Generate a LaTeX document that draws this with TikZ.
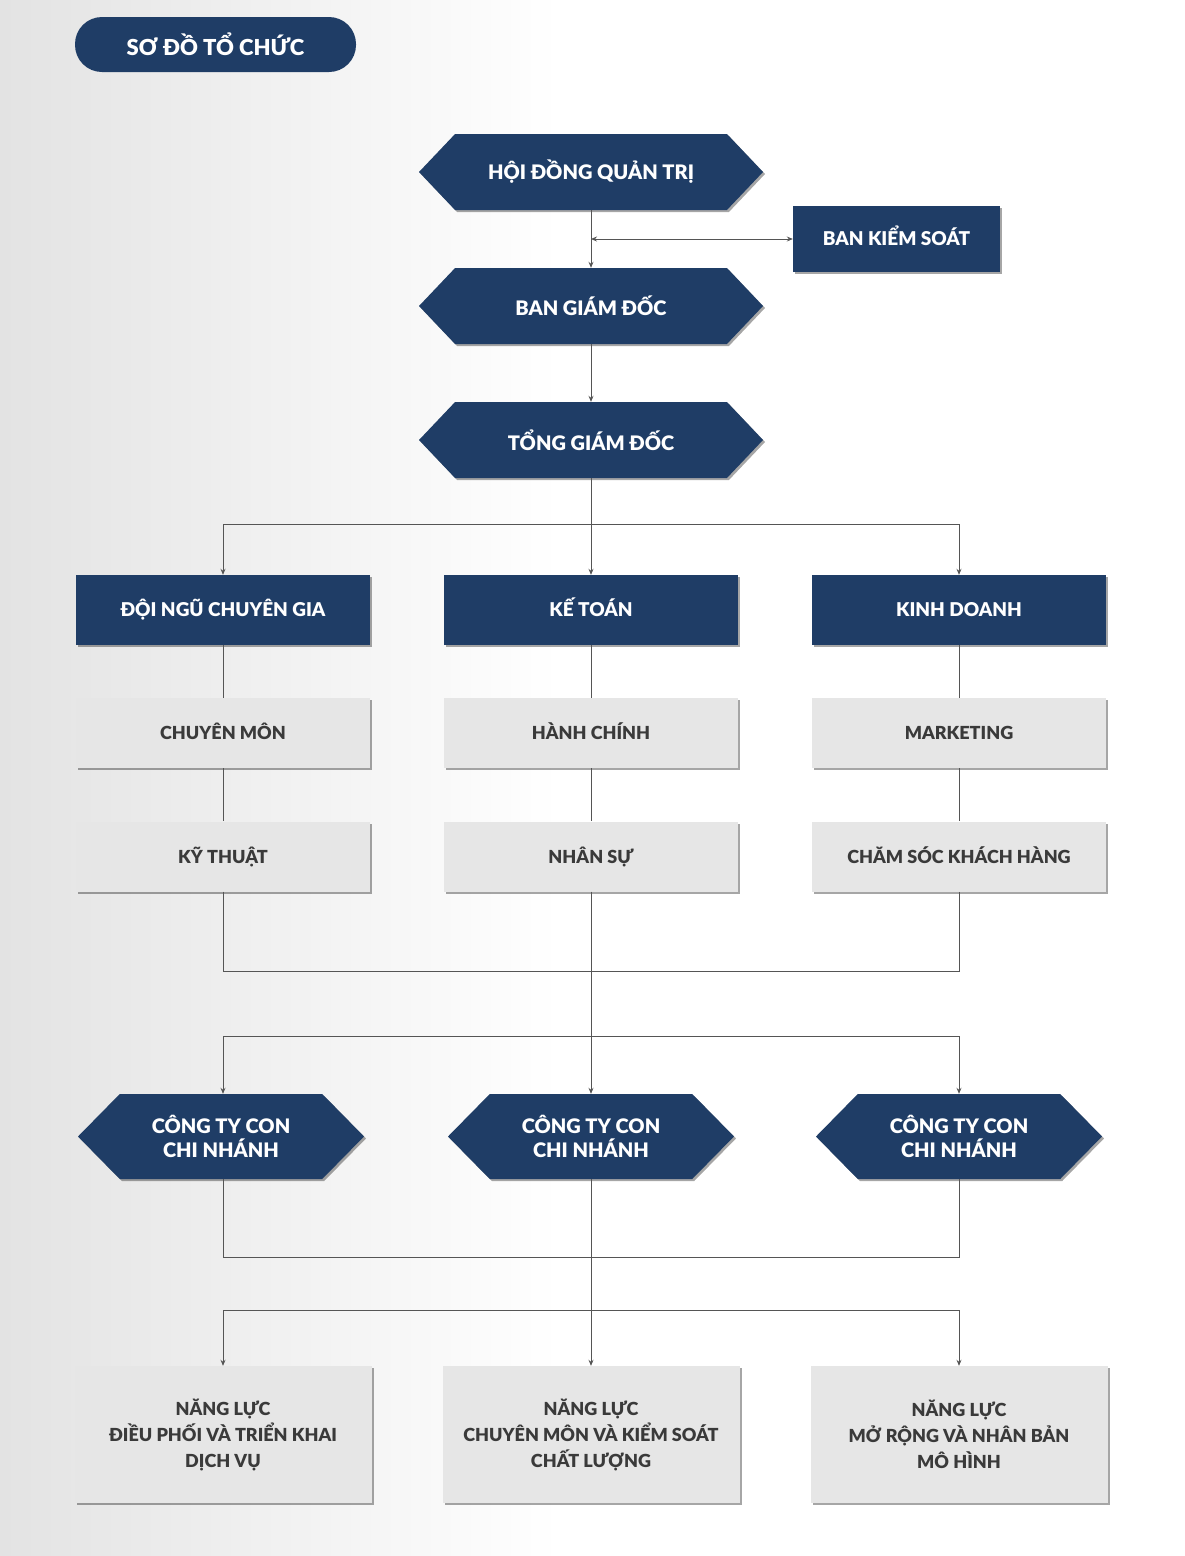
\documentclass[tikz,border=0pt]{standalone}
\usepackage{fontspec}
\setmainfont{Lato}[BoldFont={Lato Black}]
\usetikzlibrary{positioning,shapes.symbols,shadows,arrows.meta}
\definecolor{navy}{RGB}{31,61,102}
\definecolor{boxgray}{RGB}{230,230,230}
\definecolor{textgray}{RGB}{58,58,58}
\definecolor{linegray}{RGB}{85,85,85}

\begin{document}
\begin{tikzpicture}[x=1pt,y=-1pt,
	boxshadow/.style={drop shadow={shadow xshift=2pt,shadow yshift=-2pt,opacity=0.35,fill=black}},
	titlebox/.style={rectangle, rounded corners=27pt, fill=navy, text=white, minimum width=281pt, minimum height=55pt, font=\fontsize{22}{26}\selectfont\bfseries},
	darkhex/.style={shape=signal, signal to=west and east, signal pointer angle=93, fill=navy, text=white, inner sep=0pt, minimum width=344pt, minimum height=76pt, boxshadow, font=\fontsize{20}{24}\selectfont\bfseries},
	subhex/.style={darkhex, minimum width=286pt, minimum height=85pt, signal pointer angle=91, align=center},
	darkbox/.style={rectangle, fill=navy, text=white, minimum width=294pt, minimum height=70pt, text height=13.5pt, text depth=0pt, boxshadow, font=\fontsize{19}{23}\selectfont\bfseries},
	lightbox/.style={rectangle, fill=boxgray, text=textgray, minimum width=294pt, minimum height=70pt, text height=13pt, text depth=0pt, boxshadow, font=\fontsize{18}{22}\selectfont\bfseries},
	capbox/.style={lightbox, minimum width=297pt, minimum height=137pt, text height=, text depth=, align=center, font=\fontsize{18}{26}\selectfont\bfseries},
	line/.style={draw=linegray, line width=0.9pt},
	arrowline/.style={line, -{Stealth[length=6pt,width=5pt]}},
	]
	\useasboundingbox (0,0) rectangle (1184,1556);
	\shade[left color=black!11, right color=white] (0,0) rectangle (560,1556);

	\node[titlebox] (title) at (215.5,44.5) {SƠ ĐỒ TỔ CHỨC};

	% top of the chart
	\node[darkhex] (hdqt) at (591,172) {HỘI ĐỒNG QUẢN TRỊ};
	\node[darkbox, minimum width=207pt, minimum height=66pt] (bks) at (896.5,239) {BAN KIỂM SOÁT};
	\node[darkhex] (bgd) at (591,306) {BAN GIÁM ĐỐC};
	\node[darkhex] (tgd) at (591,440) {TỔNG GIÁM ĐỐC};

	% departments
	\node[darkbox] (dn) at (223,610) {ĐỘI NGŨ CHUYÊN GIA};
	\node[darkbox] (kt) at (591,610) {KẾ TOÁN};
	\node[darkbox] (kd) at (959,610) {KINH DOANH};
	\node[lightbox] (cm) at (223,733) {CHUYÊN MÔN};
	\node[lightbox] (hc) at (591,733) {HÀNH CHÍNH};
	\node[lightbox] (mk) at (959,733) {MARKETING};
	\node[lightbox] (kyt) at (223,856.5) {KỸ THUẬT};
	\node[lightbox] (ns) at (591,856.5) {NHÂN SỰ};
	\node[lightbox] (cskh) at (959,856.5) {CHĂM SÓC KHÁCH HÀNG};

	% subsidiaries
	\node[subhex] (ct1) at (221,1136.5) {CÔNG TY CON\\CHI NHÁNH};
	\node[subhex] (ct2) at (591,1136.5) {CÔNG TY CON\\CHI NHÁNH};
	\node[subhex] (ct3) at (959,1136.5) {CÔNG TY CON\\CHI NHÁNH};

	% capabilities
	\node[capbox] (nl1) at (223,1434.5) {NĂNG LỰC\\ĐIỀU PHỐI VÀ TRIỂN KHAI\\DỊCH VỤ};
	\node[capbox] (nl2) at (591,1434.5) {NĂNG LỰC\\CHUYÊN MÔN VÀ KIỂM SOÁT\\CHẤT LƯỢNG};
	\node[capbox] (nl3) at (959,1434.5) {NĂNG LỰC\\MỞ RỘNG VÀ NHÂN BẢN\\MÔ HÌNH};

	\coordinate (j1) at (591,524);
	\coordinate (j2) at (591,971);
	\coordinate (j3) at (591,1036);
	\coordinate (j4) at (591,1257);
	\coordinate (j5) at (591,1310);

	\draw[arrowline] (hdqt.south) -- (bgd.north);
	\draw[line, {Stealth[length=6pt,width=5pt]}-{Stealth[length=6pt,width=5pt]}] (bks.west -| hdqt.south) -- (bks.west);
	\draw[arrowline] (bgd.south) -- (tgd.north);
	\draw[arrowline] (tgd.south) -- (kt.north);
	\draw[arrowline] (j1) -| (dn.north);
	\draw[arrowline] (j1) -| (kd.north);

	\draw[line] (dn.south) -- (cm.north) (cm.south) -- (kyt.north);
	\draw[line] (kt.south) -- (hc.north) (hc.south) -- (ns.north);
	\draw[line] (kd.south) -- (mk.north) (mk.south) -- (cskh.north);

	\draw[line] (kyt.south) |- (j2) -| (cskh.south);
	\draw[arrowline] (ns.south) -- (ct2.north);
	\draw[arrowline] (j3) -| (kyt.south |- ct1.north);
	\draw[arrowline] (j3) -| (ct3.north);

	\draw[line] (kyt.south |- ct1.south) |- (j4) -| (ct3.south);
	\draw[arrowline] (ct2.south) -- (nl2.north);
	\draw[arrowline] (j5) -| (nl1.north);
	\draw[arrowline] (j5) -| (nl3.north);
\end{tikzpicture}
\end{document}
